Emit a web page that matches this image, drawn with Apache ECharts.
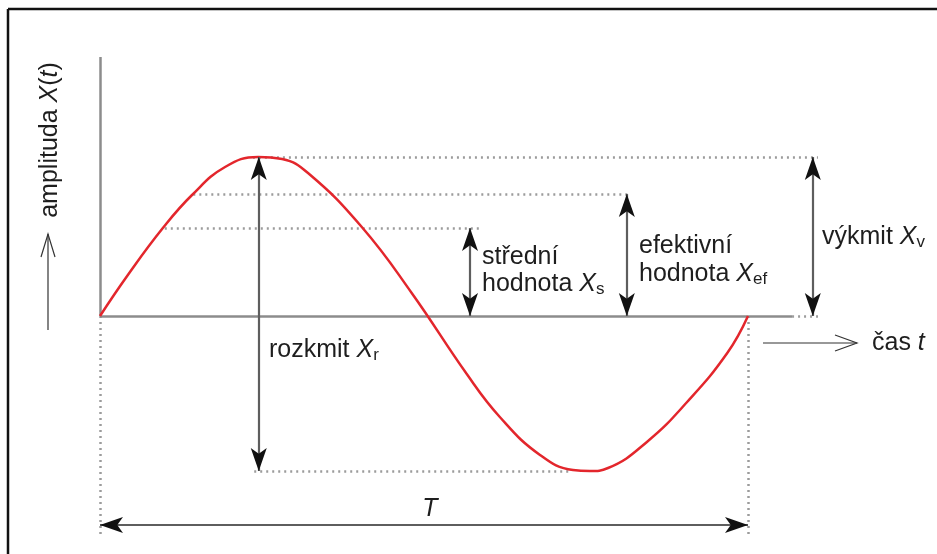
<!DOCTYPE html>
<html><head><meta charset="utf-8">
<script src="https://cdn.jsdelivr.net/npm/echarts@6/dist/echarts.min.js"></script>
<style>html,body{margin:0;padding:0;background:#fff}#c{width:937px;height:554px}</style>
</head><body><div id="c"></div>
<script>
// ---- data (time in periods T, amplitude in units of the peak value) ----
const curveT = [0, 0.043, 0.097, 0.142, 0.193, 0.244, 0.281, 0.321, 0.404, 0.481, 0.566, 0.617,
                0.679, 0.730, 0.756, 0.784, 0.844, 0.906, 0.968, 1.0];
const curveX = [0, 0.258, 0.553, 0.761, 0.937, 1.0, 0.987, 0.899, 0.560, 0.145, -0.365, -0.635,
                -0.874, -0.969, -0.975, -0.956, -0.792, -0.541, -0.233, 0];
const levelNames = ['peak', 'rms', 'mean', 'trough'];
const levelValues = [1.0, 0.767, 0.553, -0.975];
const levelFrom = [0.236, 0.144, 0.100, 0.238];
const levelTo = [1.108, 0.815, 0.586, 0.725];
const arrowNames = ['rozkmit', 'stredni', 'efektivni', 'vykmit'];
const arrowAt = [0.245, 0.571, 0.813, 1.100];
const arrowFrom = [-0.975, 0, 0, 0];
const arrowTo = [1.0, 0.553, 0.767, 1.0];
const period = 1.0;
const periodArrowY = -1.314;
const axisTop = 1.629;
const axisEnd = 1.068;
const dropBottom = -1.377;

// ---- layout ----
const W = 937, H = 554, PX0 = 100, PY0 = 316, SX = 648, SY = 159;
const FF = '"Liberation Sans", Arial, sans-serif';
const FS = 25;
const FSUB = 17;

const chart = echarts.init(document.getElementById('c'));

const dotted = [];
levelValues.forEach((v, i) => dotted.push({coords: [[levelFrom[i], v], [levelTo[i], v]]}));
dotted.push({coords: [[axisEnd, 0], [levelTo[0], 0]]});
dotted.push({coords: [[0, 0], [0, dropBottom]]});
dotted.push({coords: [[period, 0], [period, dropBottom]]});

const axes = [
  {coords: [[0, 0], [0, axisTop]]},
  {coords: [[0, 0], [axisEnd, 0]]}
];

const arrows = arrowAt.map((x, i) => ({coords: [[x, arrowFrom[i]], [x, arrowTo[i]]]}));
arrows.push({coords: [[0, periodArrowY], [period, periodArrowY]]});

function txt(x, y, text, rich, extra) {
  return {
    type: 'text', x: x, y: y, silent: true,
    style: Object.assign({
      text: text, fontSize: FS, fontFamily: FF, fill: '#1e1e1e',
      align: 'left', verticalAlign: 'middle', rich: rich || {}
    }, extra || {})
  };
}
const rb = {
  i: {fontStyle: 'italic', fontSize: FS, fontFamily: FF, fill: '#1e1e1e', lineHeight: 28},
  s: {fontSize: FSUB, fontFamily: FF, fill: '#1e1e1e', lineHeight: 22, verticalAlign: 'bottom'},
  n: {fontSize: FS, fontFamily: FF, fill: '#1e1e1e', lineHeight: 28}
};

const yTitle = txt(50, 140, '{n|amplituda }{i|X}{n|(}{i|t}{n|)}', rb, {align: 'center'});
yTitle.rotation = Math.PI / 2;

chart.setOption({
  animation: false,
  backgroundColor: '#fff',
  grid: {left: 0, right: 0, top: 0, bottom: 0},
  xAxis: {type: 'value', min: -PX0 / SX, max: (W - PX0) / SX, show: false},
  yAxis: {type: 'value', min: -(H - PY0) / SY, max: PY0 / SY, show: false},
  series: [
    {type: 'lines', coordinateSystem: 'cartesian2d', silent: true, z: 1, symbol: 'none',
     lineStyle: {color: '#9c9c9c', width: 2.5, type: [2, 4], opacity: 1}, data: dotted},
    {type: 'lines', coordinateSystem: 'cartesian2d', silent: true, z: 2, symbol: 'none',
     lineStyle: {color: '#8c8c8c', width: 2.5, opacity: 1}, data: axes},
    {type: 'line', silent: true, z: 3, smooth: 0.45, showSymbol: false, symbol: 'none',
     lineStyle: {color: '#e3262c', width: 2.5},
     data: curveT.map((t, i) => [t, curveX[i]])},
    {type: 'lines', coordinateSystem: 'cartesian2d', silent: true, z: 4, symbol: 'none',
     lineStyle: {color: '#5e5e5e', width: 2.2, opacity: 1}, data: arrows},
    {type: 'lines', coordinateSystem: 'cartesian2d', silent: true, z: 5,
     symbol: ['arrow', 'arrow'], symbolSize: [[12, 23], [12, 23]],
     lineStyle: {color: '#111', width: 0, opacity: 1}, data: arrows}
  ],
  graphic: [
    // frame
    {type: 'line', shape: {x1: 8, y1: 9, x2: W, y2: 9}, style: {stroke: '#111', lineWidth: 2.5}, silent: true},
    {type: 'line', shape: {x1: 8, y1: 9, x2: 8, y2: H}, style: {stroke: '#111', lineWidth: 2.5}, silent: true},
    // y-axis title + arrow
    yTitle,
    {type: 'line', shape: {x1: 48, y1: 330, x2: 48, y2: 234}, style: {stroke: '#333', lineWidth: 1.2}, silent: true},
    {type: 'polyline', shape: {points: [[41, 257], [48, 234], [55, 257]]}, style: {stroke: '#333', lineWidth: 1.2, fill: null}, silent: true},
    // x-axis title + arrow
    {type: 'line', shape: {x1: 763, y1: 343, x2: 857, y2: 343}, style: {stroke: '#333', lineWidth: 1.2}, silent: true},
    {type: 'polyline', shape: {points: [[835, 335], [857, 343], [835, 351]]}, style: {stroke: '#333', lineWidth: 1.2, fill: null}, silent: true},
    txt(872, 343, '{n|čas }{i|t}', rb),
    // annotations
    txt(482, 257, 'střední'),
    txt(482, 284, '{n|hodnota }{i|X}{s|s}', rb),
    txt(639, 246, 'efektivní'),
    txt(639, 274, '{n|hodnota }{i|X}{s|ef}', rb),
    txt(822, 237, '{n|výkmit }{i|X}{s|v}', rb),
    txt(269, 350, '{n|rozkmit }{i|X}{s|r}', rb),
    txt(430, 509, '{i|T}', rb, {align: 'center'})
  ]
});
</script></body></html>
